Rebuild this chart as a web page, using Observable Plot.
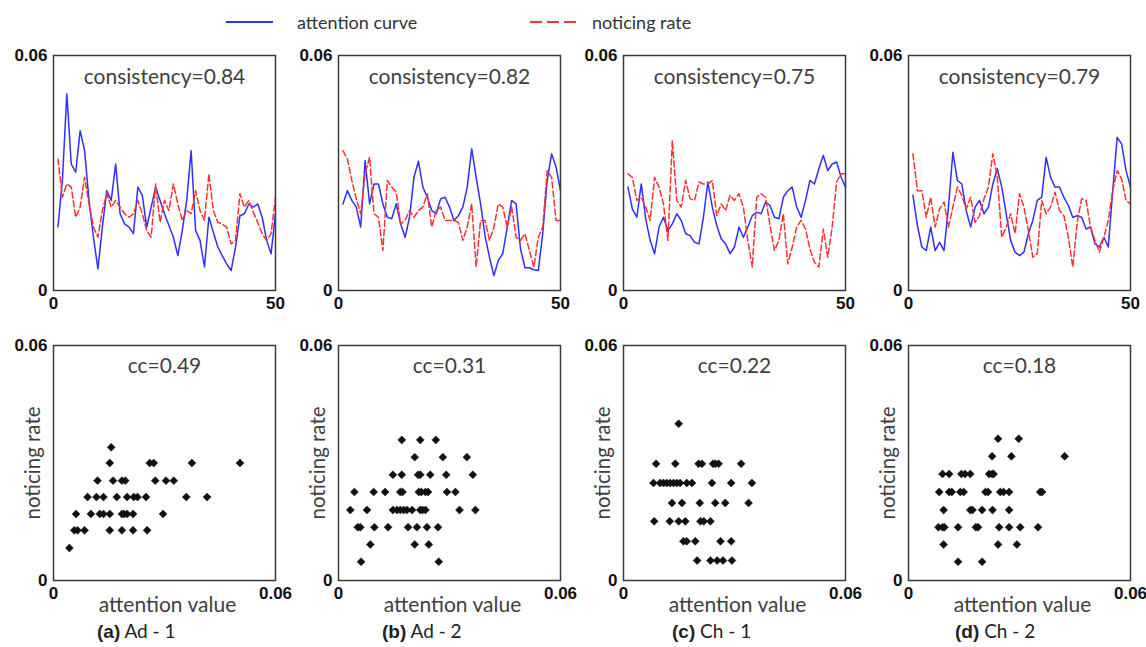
<!DOCTYPE html>
<html><head><meta charset="utf-8">
<script src="https://cdn.jsdelivr.net/npm/d3@7"></script>
<script src="https://cdn.jsdelivr.net/npm/@observablehq/plot@0.6"></script>
<style>
body{margin:0;background:#fff;}
#root{position:relative;width:1146px;height:647px;overflow:hidden;font-family:Lato,sans-serif;}
.panel{position:absolute;}
.cap{position:absolute;font-size:19px;color:#222;white-space:nowrap;line-height:22px;}
.cap b{font-family:"Liberation Sans",Arial,sans-serif;font-size:19px;}
.leg{position:absolute;font-size:18px;color:#333;white-space:nowrap;line-height:22px;}
</style></head><body><div id="root"></div>
<script>
// ---- Data ----
const panelLabels = ["(a)", "(b)", "(c)", "(d)"];
const panelNames = ["Ad - 1", "Ad - 2", "Ch - 1", "Ch - 2"];
const consistency = ["consistency=0.84", "consistency=0.82", "consistency=0.75", "consistency=0.79"];
const ccLabels = ["cc=0.49", "cc=0.31", "cc=0.22", "cc=0.18"];
const timeTicks = [0, 50];
const valueTicks = [0, 0.06];

const attentionA = [0.0162,0.0281,0.0502,0.0323,0.0302,0.0408,0.0357,0.0230,0.0136,0.0055,0.0162,0.0255,0.0230,0.0323,0.0196,0.0170,0.0162,0.0145,0.0264,0.0243,0.0162,0.0213,0.0264,0.0230,0.0196,0.0166,0.0136,0.0089,0.0153,0.0230,0.0357,0.0153,0.0128,0.0060,0.0187,0.0149,0.0111,0.0089,0.0068,0.0051,0.0111,0.0191,0.0196,0.0221,0.0213,0.0221,0.0187,0.0128,0.0094,0.0196];
const noticingA = [0.0336,0.0238,0.0272,0.0264,0.0187,0.0213,0.0289,0.0221,0.0162,0.0136,0.0204,0.0247,0.0213,0.0230,0.0213,0.0196,0.0187,0.0196,0.0230,0.0196,0.0153,0.0136,0.0272,0.0174,0.0230,0.0204,0.0272,0.0221,0.0179,0.0204,0.0196,0.0255,0.0204,0.0179,0.0298,0.0204,0.0174,0.0170,0.0162,0.0119,0.0128,0.0247,0.0213,0.0230,0.0200,0.0174,0.0145,0.0128,0.0145,0.0238];
const attentionB = [0.0221,0.0255,0.0230,0.0213,0.0162,0.0332,0.0221,0.0272,0.0272,0.0221,0.0187,0.0183,0.0221,0.0170,0.0136,0.0187,0.0289,0.0330,0.0264,0.0238,0.0204,0.0196,0.0234,0.0238,0.0213,0.0179,0.0191,0.0213,0.0264,0.0362,0.0289,0.0221,0.0140,0.0085,0.0038,0.0077,0.0094,0.0162,0.0230,0.0221,0.0106,0.0058,0.0058,0.0053,0.0051,0.0145,0.0281,0.0349,0.0315,0.0255];
const noticingB = [0.0357,0.0336,0.0281,0.0234,0.0196,0.0298,0.0340,0.0196,0.0187,0.0102,0.0281,0.0264,0.0251,0.0170,0.0179,0.0204,0.0187,0.0204,0.0213,0.0247,0.0162,0.0204,0.0213,0.0179,0.0179,0.0179,0.0174,0.0128,0.0162,0.0221,0.0060,0.0179,0.0179,0.0128,0.0162,0.0221,0.0213,0.0162,0.0213,0.0136,0.0128,0.0145,0.0102,0.0060,0.0136,0.0162,0.0306,0.0289,0.0179,0.0179];
const attentionC = [0.0264,0.0208,0.0187,0.0272,0.0183,0.0128,0.0094,0.0162,0.0187,0.0153,0.0170,0.0196,0.0179,0.0145,0.0140,0.0123,0.0119,0.0187,0.0277,0.0213,0.0166,0.0132,0.0119,0.0094,0.0111,0.0162,0.0136,0.0162,0.0191,0.0200,0.0196,0.0226,0.0217,0.0187,0.0183,0.0238,0.0255,0.0264,0.0213,0.0187,0.0230,0.0281,0.0272,0.0311,0.0345,0.0306,0.0323,0.0328,0.0289,0.0264];
const noticingC = [0.0298,0.0289,0.0230,0.0238,0.0213,0.0179,0.0289,0.0264,0.0221,0.0128,0.0383,0.0230,0.0213,0.0281,0.0234,0.0230,0.0277,0.0272,0.0272,0.0281,0.0191,0.0221,0.0204,0.0243,0.0230,0.0247,0.0213,0.0128,0.0060,0.0238,0.0247,0.0238,0.0166,0.0102,0.0128,0.0196,0.0068,0.0111,0.0162,0.0179,0.0157,0.0106,0.0072,0.0060,0.0157,0.0085,0.0162,0.0277,0.0298,0.0298];
const attentionD = [0.0243,0.0166,0.0111,0.0102,0.0162,0.0102,0.0123,0.0102,0.0213,0.0353,0.0281,0.0272,0.0204,0.0162,0.0213,0.0230,0.0196,0.0213,0.0272,0.0311,0.0264,0.0196,0.0128,0.0098,0.0089,0.0098,0.0145,0.0179,0.0230,0.0238,0.0340,0.0289,0.0264,0.0264,0.0238,0.0217,0.0187,0.0191,0.0187,0.0157,0.0162,0.0119,0.0111,0.0136,0.0111,0.0255,0.0391,0.0374,0.0306,0.0264];
const noticingD = [0.0349,0.0255,0.0255,0.0187,0.0238,0.0162,0.0208,0.0226,0.0162,0.0213,0.0264,0.0243,0.0208,0.0238,0.0174,0.0191,0.0234,0.0264,0.0349,0.0289,0.0136,0.0162,0.0196,0.0145,0.0247,0.0213,0.0153,0.0085,0.0094,0.0230,0.0196,0.0213,0.0251,0.0204,0.0191,0.0136,0.0060,0.0174,0.0234,0.0230,0.0162,0.0128,0.0098,0.0136,0.0179,0.0255,0.0306,0.0285,0.0230,0.0221];

const scatterAx = [0.0156, 0.0152,0.0260,0.0271,0.0374,0.0504, 0.0119,0.0161,0.0185,0.0194,0.0275,0.0304,0.0325, 0.0092,0.0116,0.0135,0.0171,0.0199,0.0217,0.0227,0.0250,0.0359,0.0415, 0.0061,0.0101,0.0125,0.0135,0.0152,0.0185,0.0191,0.0199,0.0215,0.0296, 0.0056,0.0065,0.0084,0.0152,0.0185,0.0215,0.0253, 0.0043];
const scatterAy = [0.0340, 0.0300,0.0300,0.0300,0.0300,0.0300, 0.0255,0.0255,0.0255,0.0255,0.0255,0.0255,0.0255, 0.0213,0.0213,0.0213,0.0213,0.0213,0.0213,0.0213,0.0213,0.0213,0.0213, 0.0170,0.0170,0.0170,0.0170,0.0170,0.0170,0.0170,0.0170,0.0170,0.0170, 0.0128,0.0128,0.0128,0.0128,0.0128,0.0128,0.0128, 0.0083];
const scatterBx = [0.0171,0.0221,0.0263, 0.0206,0.0282,0.0347, 0.0147,0.0171,0.0215,0.0221,0.0248,0.0291,0.0363, 0.0043,0.0095,0.0126,0.0167,0.0173,0.0217,0.0224,0.0235,0.0242,0.0293,0.0316, 0.0032,0.0077,0.0147,0.0158,0.0167,0.0176,0.0185,0.0199,0.0221,0.0227,0.0235,0.0327,0.0370, 0.0052,0.0059,0.0097,0.0134,0.0188,0.0212,0.0239,0.0269, 0.0086,0.0206,0.0244, 0.0061,0.0271];
const scatterBy = [0.0359,0.0359,0.0359, 0.0315,0.0315,0.0315, 0.0270,0.0270,0.0270,0.0270,0.0270,0.0270,0.0270, 0.0226,0.0226,0.0226,0.0226,0.0226,0.0226,0.0226,0.0226,0.0226,0.0226,0.0226, 0.0180,0.0180,0.0180,0.0180,0.0180,0.0180,0.0180,0.0180,0.0180,0.0180,0.0180,0.0180,0.0180, 0.0136,0.0136,0.0136,0.0136,0.0136,0.0136,0.0136,0.0136, 0.0092,0.0092,0.0092, 0.0048,0.0048];
const scatterCx = [0.0149, 0.0088,0.0140,0.0203,0.0212,0.0242,0.0248,0.0257,0.0318, 0.0081,0.0099,0.0108,0.0117,0.0126,0.0135,0.0144,0.0153,0.0171,0.0185,0.0239,0.0291,0.0347, 0.0131,0.0158,0.0206,0.0248,0.0275,0.0338, 0.0083,0.0125,0.0149,0.0167,0.0208,0.0217,0.0235, 0.0162,0.0171,0.0194,0.0262,0.0291, 0.0199,0.0235,0.0253,0.0269,0.0293];
const scatterCy = [0.0400, 0.0298,0.0298,0.0298,0.0298,0.0298,0.0298,0.0298,0.0298, 0.0249,0.0249,0.0249,0.0249,0.0249,0.0249,0.0249,0.0249,0.0249,0.0249,0.0249,0.0249,0.0249, 0.0198,0.0198,0.0198,0.0198,0.0198,0.0198, 0.0151,0.0151,0.0151,0.0151,0.0151,0.0151,0.0151, 0.0100,0.0100,0.0100,0.0100,0.0100, 0.0051,0.0051,0.0051,0.0051,0.0051];
const scatterDx = [0.0242,0.0298, 0.0226,0.0278,0.0422, 0.0092,0.0110,0.0143,0.0153,0.0167,0.0218,0.0226,0.0230, 0.0083,0.0110,0.0117,0.0140,0.0149,0.0208,0.0215,0.0248,0.0257,0.0272,0.0356,0.0361, 0.0095,0.0167,0.0173,0.0199,0.0227,0.0272, 0.0081,0.0092,0.0097,0.0134,0.0182,0.0188,0.0245,0.0272,0.0302,0.0350, 0.0095,0.0242,0.0293, 0.0134,0.0199];
const scatterDy = [0.0362,0.0362, 0.0317,0.0317,0.0317, 0.0272,0.0272,0.0272,0.0272,0.0272,0.0272,0.0272,0.0272, 0.0226,0.0226,0.0226,0.0226,0.0226,0.0226,0.0226,0.0226,0.0226,0.0226,0.0226,0.0226, 0.0180,0.0180,0.0180,0.0180,0.0180,0.0180, 0.0136,0.0136,0.0136,0.0136,0.0136,0.0136,0.0136,0.0136,0.0136,0.0136, 0.0092,0.0092,0.0092, 0.0048,0.0048];

const attention = [attentionA, attentionB, attentionC, attentionD];
const noticing = [noticingA, noticingB, noticingC, noticingD];
const scatterX = [scatterAx, scatterBx, scatterCx, scatterDx];
const scatterY = [scatterAy, scatterBy, scatterCy, scatterDy];

// ---- Styles ----
const BLUE = "#2f2fff", RED = "#ff3030", FRAME = "#3a3a3a", TEXT = "#404040";
const tickFont = {fontFamily: "'Liberation Sans', Arial, sans-serif", fontSize: 17, fontWeight: "bold"};
const labelFont = {fontFamily: "Lato, sans-serif", fill: TEXT};
const root = document.getElementById("root");
const STEP = 285;

function place(svg, left, top) {
  svg.classList.add("panel");
  svg.style.left = left + "px";
  svg.style.top = top + "px";
  root.appendChild(svg);
}

for (let i = 0; i < 4; i++) {
  // top row: time series
  const top = Plot.plot({
    width: 290, height: 275,
    marginLeft: 43, marginRight: 25, marginTop: 10, marginBottom: 30,
    x: {domain: [0, 50]},
    y: {domain: [0, 0.06]},
    style: {background: "transparent", overflow: "visible", color: "#111"},
    marks: [
      Plot.line(attention[i], {x: (d, j) => j + 1, y: d => d, stroke: BLUE, strokeWidth: 1.5}),
      Plot.line(noticing[i], {x: (d, j) => j + 1, y: d => d, stroke: RED, strokeWidth: 1.5, strokeDasharray: "6,3"}),
      Plot.frame({stroke: FRAME, strokeWidth: 1.5}),
      Plot.axisY({ticks: valueTicks, tickSize: 0, tickPadding: 6, tickFormat: d => d === 0 ? "0" : "0.06", label: null, ...tickFont}),
      Plot.axisX({ticks: timeTicks, tickSize: 0, tickPadding: 6, tickFormat: d => String(d), label: null, ...tickFont}),
      Plot.text([consistency[i]], {frameAnchor: "top", dy: 22, lineAnchor: "middle", textAnchor: "middle", fontSize: 21, ...labelFont})
    ]
  });
  place(top, 10 + STEP * i, 45);

  // bottom row: scatter
  const pts = scatterX[i].map((x, j) => ({x, y: scatterY[i][j]}));
  const bot = Plot.plot({
    width: 290, height: 290,
    marginLeft: 43, marginRight: 25, marginTop: 10, marginBottom: 45,
    x: {domain: [0, 0.06]},
    y: {domain: [0, 0.06]},
    style: {background: "transparent", overflow: "visible", color: "#111"},
    marks: [
      Plot.dot(pts, {x: "x", y: "y", symbol: "diamond2", r: 3.6, fill: "#111", stroke: "#111", strokeWidth: 0.5}),
      Plot.frame({stroke: FRAME, strokeWidth: 1.5}),
      Plot.axisY({ticks: valueTicks, tickSize: 0, tickPadding: 6, tickFormat: d => d === 0 ? "0" : "0.06", label: null, ...tickFont}),
      Plot.axisX({ticks: valueTicks, tickSize: 0, tickPadding: 6, tickFormat: d => d === 0 ? "0" : "0.06", label: null, ...tickFont}),
      Plot.text([ccLabels[i]], {frameAnchor: "top", dy: 21, lineAnchor: "middle", textAnchor: "middle", fontSize: 21, ...labelFont}),
      Plot.text(["attention value"], {frameAnchor: "bottom", dy: 25, dx: 3, lineAnchor: "middle", textAnchor: "middle", fontSize: 21, ...labelFont}),
      Plot.text(["noticing rate"], {frameAnchor: "left", dx: -20, rotate: -90, lineAnchor: "middle", textAnchor: "middle", fontSize: 20.5, ...labelFont})
    ]
  });
  place(bot, 10 + STEP * i, 335);
}

// captions
const capLeft = [97, 382, 672, 955];
for (let i = 0; i < 4; i++) {
  const d = document.createElement("div");
  d.className = "cap";
  d.style.left = capLeft[i] + "px";
  d.style.top = "620px";
  d.innerHTML = `<b>${panelLabels[i]}</b>&nbsp;${panelNames[i]}`;
  root.appendChild(d);
}

// legend
const legendItems = [
  {label: "attention curve", color: BLUE, dash: null, x1: 226, x2: 273, tx: 297},
  {label: "noticing rate", color: RED, dash: "12,5", x1: 530, x2: 578, tx: 592}
];
const ns = "http://www.w3.org/2000/svg";
const lsvg = document.createElementNS(ns, "svg");
lsvg.setAttribute("width", 1146); lsvg.setAttribute("height", 40);
lsvg.style.position = "absolute"; lsvg.style.left = "0px"; lsvg.style.top = "0px";
for (const it of legendItems) {
  const ln = document.createElementNS(ns, "line");
  ln.setAttribute("x1", it.x1); ln.setAttribute("x2", it.x2);
  ln.setAttribute("y1", 22); ln.setAttribute("y2", 22);
  ln.setAttribute("stroke", it.color); ln.setAttribute("stroke-width", 2);
  if (it.dash) ln.setAttribute("stroke-dasharray", it.dash);
  lsvg.appendChild(ln);
}
root.appendChild(lsvg);
for (const it of legendItems) {
  const d = document.createElement("div");
  d.className = "leg";
  d.style.left = it.tx + "px";
  d.style.top = "11px";
  d.textContent = it.label;
  root.appendChild(d);
}
</script>
</body></html>
